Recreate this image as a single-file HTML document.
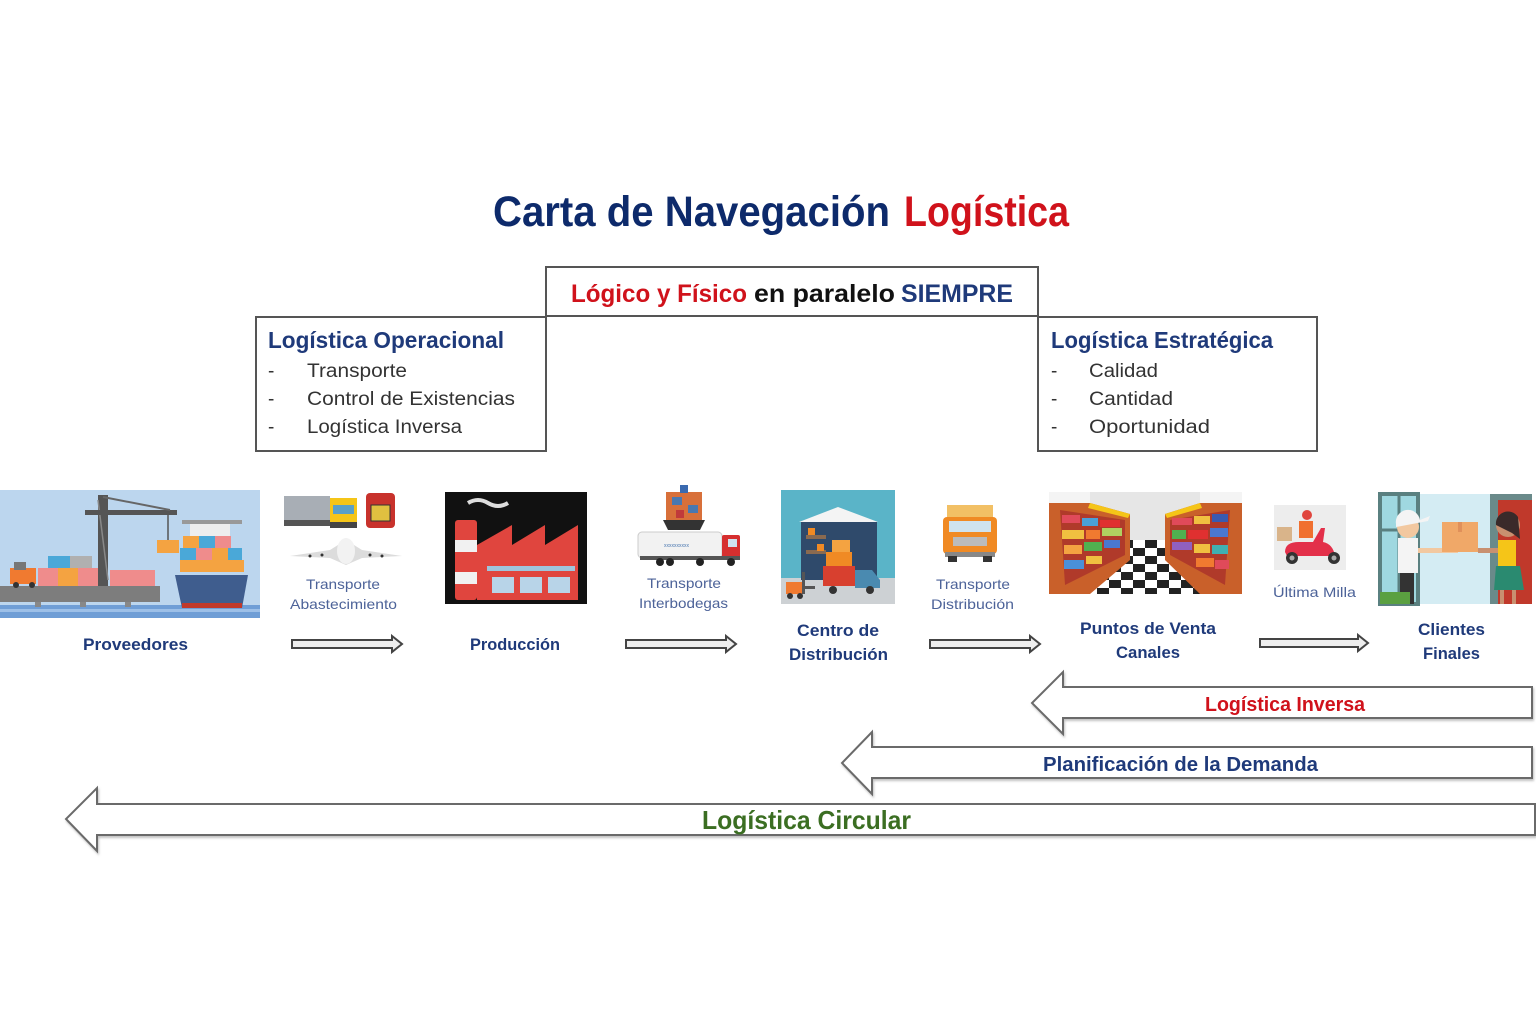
<!DOCTYPE html>
<html><head><meta charset="utf-8"><style>
html,body{margin:0;padding:0;background:#fff;}
svg{display:block;}
text{font-family:"Liberation Sans",sans-serif;}
</style></head><body>
<svg width="1536" height="1024" viewBox="0 0 1536 1024" xmlns="http://www.w3.org/2000/svg">
<defs>
<pattern id="chk" x="1049" y="540" width="24" height="16" patternUnits="userSpaceOnUse">
<rect width="24" height="16" fill="#fff"/><rect width="12" height="8" fill="#222"/><rect x="12" y="8" width="12" height="8" fill="#222"/>
</pattern>
<filter id="sh" x="-5%" y="-20%" width="110%" height="150%"><feDropShadow dx="1" dy="2" stdDeviation="1" flood-color="#999" flood-opacity="0.6"/></filter>
</defs>

<!-- Title -->
<text x="493" y="226" font-size="43" font-weight="bold" fill="#0d2a6b" textLength="397" lengthAdjust="spacingAndGlyphs">Carta de Navegación</text>
<text x="904" y="226" font-size="43" font-weight="bold" fill="#d0121b" textLength="165" lengthAdjust="spacingAndGlyphs">Logística</text>

<!-- Boxes -->
<rect x="546" y="267" width="492" height="49" fill="#fff" stroke="#555" stroke-width="2"/>
<text x="571" y="302" font-size="25" font-weight="bold" fill="#d0121b" textLength="176" lengthAdjust="spacingAndGlyphs">Lógico y Físico</text>
<text x="754" y="302" font-size="25" font-weight="bold" fill="#111" textLength="141" lengthAdjust="spacingAndGlyphs">en paralelo</text>
<text x="901" y="302" font-size="25" font-weight="bold" fill="#1f3a7a" textLength="112" lengthAdjust="spacingAndGlyphs">SIEMPRE</text>

<rect x="256" y="317" width="290" height="134" fill="#fff" stroke="#555" stroke-width="2"/>
<text x="268" y="348" font-size="23" font-weight="bold" fill="#1f3a7a" textLength="236" lengthAdjust="spacingAndGlyphs">Logística Operacional</text>
<g font-size="19" fill="#333">
<text x="268" y="377">-</text><text x="307" y="377" textLength="100" lengthAdjust="spacingAndGlyphs">Transporte</text>
<text x="268" y="405">-</text><text x="307" y="405" textLength="208" lengthAdjust="spacingAndGlyphs">Control de Existencias</text>
<text x="268" y="433">-</text><text x="307" y="433" textLength="155" lengthAdjust="spacingAndGlyphs">Logística Inversa</text>
</g>

<rect x="1038" y="317" width="279" height="134" fill="#fff" stroke="#555" stroke-width="2"/>
<text x="1051" y="348" font-size="23" font-weight="bold" fill="#1f3a7a" textLength="222" lengthAdjust="spacingAndGlyphs">Logística Estratégica</text>
<g font-size="19" fill="#333">
<text x="1051" y="377">-</text><text x="1089" y="377" textLength="69" lengthAdjust="spacingAndGlyphs">Calidad</text>
<text x="1051" y="405">-</text><text x="1089" y="405" textLength="84" lengthAdjust="spacingAndGlyphs">Cantidad</text>
<text x="1051" y="433">-</text><text x="1089" y="433" textLength="121" lengthAdjust="spacingAndGlyphs">Oportunidad</text>
</g>

<!-- Proveedores image -->
<rect x="0" y="490" width="260" height="128" fill="#bcd6ee"/>
<rect x="0" y="605" width="260" height="13" fill="#6f9ed6"/>
<rect x="0" y="609" width="260" height="3" fill="#9dc0e8"/>
<rect x="0" y="586" width="160" height="16" fill="#7d7d7d"/>
<rect x="35" y="602" width="6" height="5" fill="#888"/><rect x="80" y="602" width="6" height="5" fill="#888"/><rect x="125" y="602" width="6" height="5" fill="#888"/>
<rect x="38" y="568" width="20" height="18" fill="#ef8c8c"/><rect x="58" y="568" width="20" height="18" fill="#f4a341"/><rect x="78" y="568" width="20" height="18" fill="#ef8c8c"/>
<rect x="48" y="556" width="22" height="12" fill="#4aa8d8"/><rect x="70" y="556" width="22" height="12" fill="#b0b0b0"/><rect x="110" y="570" width="45" height="16" fill="#ef8c8c"/>
<rect x="98" y="495" width="10" height="91" fill="#555"/>
<line x1="98" y1="500" x2="108" y2="580" stroke="#888" stroke-width="1.5"/>
<rect x="85" y="510" width="92" height="5" fill="#555"/>
<line x1="103" y1="497" x2="170" y2="510" stroke="#666" stroke-width="2"/>
<line x1="168" y1="515" x2="168" y2="540" stroke="#555" stroke-width="1.5"/>
<rect x="157" y="540" width="22" height="13" fill="#f4a341"/>
<rect x="10" y="568" width="26" height="16" fill="#f07a30"/><rect x="14" y="562" width="12" height="8" fill="#777"/>
<circle cx="16" cy="585" r="3" fill="#333"/><circle cx="32" cy="585" r="3" fill="#333"/>
<rect x="182" y="520" width="60" height="4" fill="#999"/>
<rect x="190" y="524" width="40" height="12" fill="#eee"/>
<rect x="183" y="536" width="16" height="12" fill="#f4a341"/><rect x="199" y="536" width="16" height="12" fill="#4aa8d8"/><rect x="215" y="536" width="16" height="12" fill="#ef8c8c"/>
<rect x="180" y="548" width="16" height="12" fill="#4aa8d8"/><rect x="196" y="548" width="16" height="12" fill="#ef8c8c"/><rect x="212" y="548" width="16" height="12" fill="#f4a341"/><rect x="228" y="548" width="14" height="12" fill="#4aa8d8"/>
<rect x="180" y="560" width="64" height="12" fill="#f4a341"/>
<path d="M175,575 L248,575 L242,608 L182,608 Z" fill="#3f5d8e"/>
<rect x="182" y="603" width="60" height="5" fill="#c0392b"/>

<!-- Transporte Abastecimiento image -->
<rect x="284" y="496" width="46" height="28" fill="#a8aeb5"/><rect x="284" y="520" width="46" height="6" fill="#555"/>
<rect x="330" y="498" width="27" height="30" fill="#f5c518"/><rect x="333" y="505" width="21" height="9" fill="#5aa0c8"/><rect x="330" y="522" width="27" height="6" fill="#444"/>
<rect x="366" y="493" width="29" height="35" rx="4" fill="#c8322c"/><rect x="371" y="505" width="19" height="16" fill="#e0c040"/><rect x="371" y="505" width="19" height="16" fill="none" stroke="#333" stroke-width="1"/>
<path d="M290,556 L330,550 L346,540 L362,550 L402,556 L362,558 L346,565 L330,558 Z" fill="#dcdcdc"/>
<ellipse cx="346" cy="551" rx="9" ry="13" fill="#f2f2f2"/>
<circle cx="310" cy="556" r="1.5" fill="#333"/><circle cx="322" cy="555" r="1.5" fill="#333"/><circle cx="370" cy="555" r="1.5" fill="#333"/><circle cx="382" cy="556" r="1.5" fill="#333"/>

<!-- Producción image -->
<rect x="445" y="492" width="142" height="112" fill="#111"/>
<path d="M468,503 q10,-6 20,0 t20,0" stroke="#ddd" stroke-width="4" fill="none"/>
<rect x="455" y="520" width="22" height="80" rx="3" fill="#e0453e"/>
<rect x="455" y="540" width="22" height="12" fill="#f1f1f1"/><rect x="455" y="572" width="22" height="12" fill="#f1f1f1"/>
<path d="M477,600 L477,545 L512,525 L512,545 L545,525 L545,545 L578,525 L578,600 Z" fill="#e0453e"/>
<rect x="487" y="566" width="88" height="5" fill="#9fc4dc"/>
<rect x="492" y="577" width="22" height="16" fill="#b8d4e8"/><rect x="520" y="577" width="22" height="16" fill="#b8d4e8"/><rect x="548" y="577" width="22" height="16" fill="#b8d4e8"/>

<!-- Transporte Interbodegas image -->
<rect x="666" y="492" width="36" height="28" fill="#d8703a"/><rect x="672" y="497" width="10" height="8" fill="#4a78b0"/><rect x="688" y="505" width="10" height="8" fill="#4a78b0"/><rect x="676" y="510" width="8" height="8" fill="#c03a3a"/>
<rect x="680" y="485" width="8" height="8" fill="#3a6ab0"/>
<path d="M663,520 L705,520 L700,530 L668,530 Z" fill="#333"/>
<rect x="638" y="532" width="84" height="26" rx="4" fill="#f2f2f2" stroke="#ccc"/>
<rect x="722" y="535" width="18" height="23" rx="2" fill="#d62f2f"/><rect x="728" y="539" width="9" height="8" fill="#cfe3ef"/>
<rect x="640" y="556" width="100" height="4" fill="#555"/>
<circle cx="660" cy="562" r="4" fill="#222"/><circle cx="670" cy="562" r="4" fill="#222"/><circle cx="700" cy="562" r="4" fill="#222"/><circle cx="731" cy="562" r="4" fill="#222"/>
<text x="664" y="547" font-size="5" fill="#4a78b0">xxxxxxxxxx</text>

<!-- Centro de Distribución image -->
<rect x="781" y="490" width="114" height="114" fill="#5ab4c8"/>
<rect x="781" y="578" width="114" height="26" fill="#cdd1d4"/>
<path d="M799,522 L838,507 L878,522 Z" fill="#f4f4f4"/>
<rect x="801" y="522" width="76" height="58" fill="#2f4a6b"/>
<rect x="806" y="535" width="20" height="4" fill="#8a6a50"/><rect x="806" y="550" width="20" height="4" fill="#8a6a50"/>
<rect x="808" y="528" width="7" height="7" fill="#f08a24"/><rect x="817" y="544" width="7" height="7" fill="#f08a24"/>
<rect x="832" y="540" width="18" height="12" fill="#f4a341"/><rect x="826" y="552" width="26" height="14" fill="#f08a24"/>
<rect x="823" y="566" width="32" height="20" fill="#d8402f"/><path d="M855,570 L872,570 L880,580 L880,588 L855,588 Z" fill="#4a8ab0"/>
<circle cx="833" cy="590" r="4" fill="#333"/><circle cx="870" cy="590" r="4" fill="#333"/>
<rect x="786" y="582" width="18" height="12" fill="#f07a30"/><rect x="802" y="572" width="3" height="22" fill="#555"/><rect x="805" y="586" width="10" height="3" fill="#555"/>
<circle cx="790" cy="596" r="3" fill="#333"/><circle cx="800" cy="596" r="3" fill="#333"/>

<!-- Transporte Distribución image -->
<rect x="947" y="505" width="46" height="14" fill="#f2c065"/>
<rect x="943" y="517" width="54" height="37" rx="4" fill="#f08a24"/>
<rect x="949" y="521" width="42" height="11" fill="#cfe3ef"/>
<rect x="953" y="537" width="34" height="9" fill="#bbb"/>
<rect x="945" y="552" width="50" height="5" fill="#888"/>
<rect x="948" y="556" width="9" height="6" fill="#333"/><rect x="983" y="556" width="9" height="6" fill="#333"/>

<!-- Puntos de Venta image -->
<rect x="1049" y="492" width="193" height="102" fill="#f4f4f4"/>
<rect x="1090" y="492" width="110" height="50" fill="#e6e6e6"/>
<polygon points="1105,540 1185,540 1230,594 1065,594" fill="url(#chk)"/>
<polygon points="1049,503 1090,503 1130,514 1130,560 1090,594 1049,594" fill="#c9602a"/>
<polygon points="1060,510 1125,520 1125,555 1065,585" fill="#b03a2a"/>
<rect x="1062" y="515" width="18" height="8" fill="#e04a5a"/><rect x="1082" y="518" width="16" height="8" fill="#4aa0d8"/><rect x="1100" y="520" width="20" height="7" fill="#e03030"/>
<rect x="1062" y="530" width="22" height="9" fill="#f0c040"/><rect x="1086" y="530" width="14" height="9" fill="#f07a30"/><rect x="1102" y="528" width="20" height="8" fill="#b0d060"/>
<rect x="1064" y="545" width="18" height="9" fill="#f4a341"/><rect x="1084" y="542" width="18" height="9" fill="#50b050"/><rect x="1104" y="540" width="16" height="8" fill="#4a78d0"/>
<rect x="1064" y="560" width="20" height="9" fill="#4a90d8"/><rect x="1086" y="556" width="16" height="8" fill="#f0c040"/>
<polygon points="1090,503 1130,514 1128,518 1088,508" fill="#f5c518"/>
<polygon points="1242,503 1200,503 1165,514 1165,560 1200,594 1242,594" fill="#c9602a"/>
<polygon points="1230,510 1170,520 1170,555 1225,585" fill="#b03a2a"/>
<rect x="1172" y="518" width="20" height="7" fill="#e04a5a"/><rect x="1194" y="516" width="16" height="8" fill="#f0c040"/><rect x="1212" y="514" width="16" height="8" fill="#3a5ab0"/>
<rect x="1172" y="530" width="14" height="9" fill="#50b050"/><rect x="1188" y="530" width="20" height="9" fill="#e03030"/><rect x="1210" y="528" width="18" height="9" fill="#4a78d0"/>
<rect x="1172" y="542" width="20" height="8" fill="#9060c0"/><rect x="1194" y="544" width="16" height="9" fill="#f0c040"/><rect x="1212" y="545" width="16" height="9" fill="#40b0b0"/>
<rect x="1196" y="558" width="18" height="9" fill="#f07a30"/><rect x="1215" y="560" width="14" height="9" fill="#e04a5a"/>
<polygon points="1200,503 1165,514 1167,518 1202,508" fill="#f5c518"/>

<!-- Última Milla image -->
<rect x="1274" y="505" width="72" height="65" fill="#ededed"/>
<rect x="1277" y="527" width="15" height="14" fill="#d9b48a"/>
<circle cx="1307" cy="515" r="5" fill="#e0453e"/>
<rect x="1299" y="521" width="14" height="17" fill="#f07030"/>
<path d="M1285,552 q0,-10 14,-10 l14,0 l8,-14 l4,0 l-2,14 q10,2 12,14 l-48,0 Z" fill="#e3304a"/>
<circle cx="1292" cy="558" r="6" fill="#333"/><circle cx="1334" cy="558" r="6" fill="#333"/>
<circle cx="1292" cy="558" r="2.5" fill="#aaa"/><circle cx="1334" cy="558" r="2.5" fill="#aaa"/>

<!-- Clientes image -->
<rect x="1380" y="494" width="152" height="110" fill="#d4ecf3"/>
<rect x="1380" y="494" width="38" height="110" fill="#9fd8e0"/>
<rect x="1380" y="494" width="38" height="110" fill="none" stroke="#5a8080" stroke-width="4"/>
<line x1="1399" y1="494" x2="1399" y2="604" stroke="#5a8080" stroke-width="3"/>
<line x1="1380" y1="530" x2="1418" y2="530" stroke="#5a8080" stroke-width="3"/>
<rect x="1490" y="494" width="42" height="110" fill="#6a8a8a"/>
<rect x="1498" y="500" width="34" height="104" fill="#c0392b"/>
<circle cx="1408" cy="527" r="11" fill="#f2c8a0"/>
<path d="M1396,524 a12,12 0 0 1 24,-4 l10,-4 l-2,5 l-32,6 Z" fill="#f4f4f4"/>
<rect x="1398" y="538" width="20" height="35" fill="#f4f4f4"/>
<rect x="1400" y="573" width="14" height="31" fill="#333"/>
<rect x="1418" y="548" width="40" height="5" fill="#f2c8a0"/>
<rect x="1442" y="522" width="36" height="30" fill="#f0a868"/><rect x="1458" y="522" width="4" height="10" fill="#e0905a"/>
<circle cx="1508" cy="525" r="12" fill="#c89070"/>
<path d="M1496,525 a12,12 0 0 1 22,-8 l2,22 l-8,-6 Z" fill="#3a2a2a"/>
<rect x="1498" y="540" width="18" height="26" fill="#f5c518"/>
<path d="M1496,566 L1520,566 L1524,590 L1494,590 Z" fill="#2a8a70"/>
<rect x="1478" y="548" width="20" height="5" fill="#c89070"/>
<rect x="1500" y="590" width="4" height="14" fill="#c89070"/><rect x="1512" y="590" width="4" height="14" fill="#c89070"/>
<rect x="1380" y="592" width="30" height="12" fill="#5aa040"/>

<!-- Row labels -->
<g font-weight="bold" fill="#1f3a7a" font-size="17">
<text x="83" y="650" textLength="105" lengthAdjust="spacingAndGlyphs">Proveedores</text>
<text x="470" y="650" textLength="90" lengthAdjust="spacingAndGlyphs">Producción</text>
<text x="797" y="636" textLength="82" lengthAdjust="spacingAndGlyphs">Centro de</text>
<text x="789" y="660" textLength="99" lengthAdjust="spacingAndGlyphs">Distribución</text>
<text x="1080" y="634" textLength="136" lengthAdjust="spacingAndGlyphs">Puntos de Venta</text>
<text x="1116" y="658" textLength="64" lengthAdjust="spacingAndGlyphs">Canales</text>
<text x="1418" y="635" textLength="67" lengthAdjust="spacingAndGlyphs">Clientes</text>
<text x="1423" y="659" textLength="57" lengthAdjust="spacingAndGlyphs">Finales</text>
</g>
<g fill="#4d6399" font-size="14">
<text x="306" y="589" textLength="74" lengthAdjust="spacingAndGlyphs">Transporte</text>
<text x="290" y="609" textLength="107" lengthAdjust="spacingAndGlyphs">Abastecimiento</text>
<text x="647" y="588" textLength="74" lengthAdjust="spacingAndGlyphs">Transporte</text>
<text x="639" y="608" textLength="89" lengthAdjust="spacingAndGlyphs">Interbodegas</text>
<text x="936" y="589" textLength="74" lengthAdjust="spacingAndGlyphs">Transporte</text>
<text x="931" y="609" textLength="83" lengthAdjust="spacingAndGlyphs">Distribución</text>
<text x="1273" y="597" textLength="83" lengthAdjust="spacingAndGlyphs">Última Milla</text>
</g>

<!-- Small right arrows -->
<g fill="#eeeeee" stroke="#444" stroke-width="2">
<path d="M292,640 L392,640 L392,636 L402,644 L392,652 L392,648 L292,648 Z"/>
<path d="M626,640 L726,640 L726,636 L736,644 L726,652 L726,648 L626,648 Z"/>
<path d="M930,640 L1030,640 L1030,636 L1040,644 L1030,652 L1030,648 L930,648 Z"/>
<path d="M1260,639 L1358,639 L1358,635 L1368,643 L1358,651 L1358,647 L1260,647 Z"/>
</g>

<!-- Big left arrows -->
<g fill="#fff" stroke="#6b6b6b" stroke-width="2" filter="url(#sh)">
<path d="M1532,687 L1063,687 L1063,672 L1032,703 L1063,734 L1063,718 L1532,718 Z"/>
<path d="M1532,747 L872,747 L872,732 L842,763 L872,794 L872,778 L1532,778 Z"/>
<path d="M1535,804 L97,804 L97,788 L66,819 L97,851 L97,835 L1535,835 Z"/>
</g>
<text x="1205" y="711" font-size="20" font-weight="bold" fill="#d0121b" textLength="160" lengthAdjust="spacingAndGlyphs">Logística Inversa</text>
<text x="1043" y="771" font-size="20" font-weight="bold" fill="#1f3a7a" textLength="275" lengthAdjust="spacingAndGlyphs">Planificación de la Demanda</text>
<text x="702" y="829" font-size="26" font-weight="bold" fill="#3b6e22" textLength="209" lengthAdjust="spacingAndGlyphs">Logística Circular</text>
</svg>
</body></html>
